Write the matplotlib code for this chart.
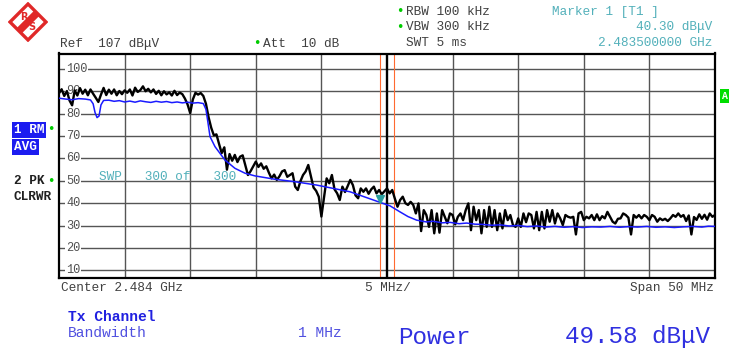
import numpy as np
import matplotlib.pyplot as plt
from matplotlib.patches import Polygon

# peak trace, one reading every 0.2 MHz across the 50 MHz span (dBuV)
pk_level = [89.2, 91.0, 88.0, 90.2, 86.0, 83.8, 90.5, 88.2, 91.5, 89.0,
            90.8, 88.3, 90.9, 89.0, 87.2, 85.3, 88.6, 91.6, 88.4, 90.8,
            89.0, 90.9, 88.3, 90.2, 88.8, 90.5, 89.4, 90.9, 88.2, 91.7,
            89.8, 90.6, 92.3, 90.1, 91.2, 89.6, 90.9, 88.9, 90.3, 88.3,
            90.1, 88.7, 89.6, 88.2, 90.3, 88.4, 89.5, 88.8, 86.8, 84.2,
            80.3, 86.4, 89.4, 88.6, 89.3, 88.0, 84.5, 78.5, 73.8, 70.4,
            70.8, 66.5, 62.4, 65.0, 55.0, 62.0, 59.0, 61.6, 58.4, 60.8,
            61.4, 57.0, 52.6, 54.3, 56.5, 58.6, 56.2, 57.8, 55.4, 56.5,
            53.6, 51.1, 52.8, 50.4, 52.0, 54.2, 54.8, 51.8, 52.6, 53.4,
            47.4, 45.9, 49.8, 52.6, 54.2, 57.1, 52.0, 47.0, 45.5, 42.9,
            34.0, 42.5, 51.1, 48.9, 52.6, 46.2, 44.4, 41.4, 47.4, 45.0,
            47.6, 50.4, 48.1, 43.5, 42.2, 46.6, 45.1, 46.6, 44.2, 46.2,
            47.4, 44.4, 45.9, 44.0, 45.3, 46.6, 44.4, 45.9, 42.0, 38.4,
            41.4, 42.9, 40.0, 39.2, 40.6, 39.2, 35.4, 39.9, 27.5, 36.9,
            34.7, 29.4, 36.9, 26.5, 35.4, 26.8, 36.9, 33.9, 31.0, 35.4,
            34.7, 30.5, 33.9, 35.4, 32.4, 36.9, 39.9, 27.9, 38.4, 32.4,
            36.9, 26.5, 36.9, 29.4, 38.4, 29.4, 36.9, 27.9, 35.4, 28.7,
            36.9, 32.4, 34.7, 30.2, 29.4, 33.2, 29.4, 35.4, 31.5, 35.4,
            34.7, 28.7, 36.1, 27.9, 36.1, 28.7, 36.9, 31.7, 36.9, 30.9,
            35.4, 33.2, 30.2, 34.7, 33.9, 33.5, 33.9, 26.0, 35.4, 36.1,
            32.4, 33.9, 33.2, 34.7, 32.4, 35.0, 32.4, 34.2, 33.2, 36.1,
            33.9, 31.7, 30.9, 33.0, 33.2, 35.4, 34.7, 33.5, 26.0, 34.7,
            33.5, 34.7, 33.2, 34.7, 33.9, 32.4, 34.7, 33.9, 31.7, 33.2,
            32.4, 33.0, 32.0, 33.2, 34.7, 33.9, 35.4, 33.9, 34.7, 32.0,
            34.5, 26.0, 33.8, 32.5, 35.0, 33.0, 34.8, 32.6, 35.4, 33.9,
            34.7]
pk_freq = np.linspace(-25, 25, len(pk_level))

# rms average trace (MHz offset, dBuV)
rm_freq = [-25.0, -24.5, -24.0, -23.5, -23.0, -22.6, -22.4, -22.25, -22.1, -21.95,
           -21.8, -21.6, -21.2, -20.8, -20.4, -20.0, -19.6, -19.2, -18.8, -18.4,
           -18.0, -17.6, -17.2, -16.8, -16.4, -16.0, -15.6, -15.2, -14.8, -14.4,
           -14.0, -13.8, -13.67, -13.49, -13.11, -12.73, -12.35, -11.59, -10.82, -10.06,
           -8.54, -7.01, -5.36, -2.82, -0.5, 0.23, 0.99, 1.6, 2.26, 3.0,
           3.51, 4.2, 4.8, 5.5, 6.07, 6.7, 7.32, 8.0, 8.61, 9.3,
           10.0, 10.7, 11.4, 12.1, 12.8, 13.5, 14.2, 14.9, 15.6, 16.3,
           17.0, 17.7, 18.4, 19.1, 19.8, 20.5, 21.2, 21.9, 22.6, 23.3,
           24.0, 24.5, 25.0]
rm_level = [87.0, 86.6, 86.3, 86.8, 86.6, 86.2, 84.5, 80.5, 78.3, 79.0,
            84.0, 86.0, 86.1, 85.6, 85.9, 85.3, 85.7, 85.2, 85.8, 85.4,
            85.1, 85.6, 85.2, 85.5, 85.0, 85.3, 84.9, 85.2, 84.8, 85.0,
            84.6, 82.0, 77.0, 69.8, 65.3, 62.3, 59.3, 55.6, 53.4, 52.2,
            50.7, 49.6, 48.1, 45.1, 40.3, 38.8, 36.1, 34.0, 32.4, 31.6,
            31.9, 31.2, 31.4, 30.8, 31.1, 30.6, 30.5, 30.1, 30.3, 29.8,
            30.0, 29.5, 29.8, 29.3, 29.6, 29.2, 29.5, 29.1, 29.4, 29.3,
            29.6, 29.2, 29.5, 29.3, 29.6, 29.2, 29.4, 29.1, 29.4, 29.6,
            29.3, 29.7, 29.6]

grid_levels = [100, 90, 80, 70, 60, 50, 40, 30, 20, 10]
channel_edges = [-0.5, 0.5]
marker_freq = -0.5
marker_level = 40.30

W, H = 736, 351
MONO = 'Liberation Mono'
TEXT = '#404040'
TEAL = '#52b0ba'
BLUE = '#1a1aff'
GREEN = '#00cc00'


def px(x, y):
    return x / W, 1 - y / H


def t(x, y, s, size=9.2, color=TEXT, ha='left', weight='normal', **kw):
    fig.text(*px(x, y), s, fontsize=size, family=MONO, color=color, ha=ha, va='center',
             weight=weight, **kw)


fig = plt.figure(figsize=(W / 100, H / 100), dpi=100)
ax = fig.add_axes([59 / W, 1 - 278 / H, 656 / W, 224.5 / H])
ax.set_xlim(-25, 25)
ax.set_ylim(6.5, 107)
ax.set_xticks([])
ax.set_yticks([])
for s in ax.spines.values():
    s.set_linewidth(1.6)
    s.set_color('black')

# graticule
for lv in grid_levels:
    ax.axhline(lv, color='#555555', lw=1.0, zorder=1)
for i in range(1, 10):
    f = -25 + 5 * i
    ax.axvline(f, color='black' if f == 0 else '#555555', lw=1.7 if f == 0 else 1.0, zorder=1)
for lv in grid_levels:
    ax.text(0.011, lv, str(lv), transform=ax.get_yaxis_transform(), fontsize=8.6,
            family=MONO, color='#505050', va='center', ha='left', zorder=2,
            bbox=dict(facecolor='white', edgecolor='none', pad=0.6))

# channel bandwidth lines
for f in channel_edges:
    ax.axvline(f, color='#ff6a30', lw=0.8, zorder=2)

t(99, 177, 'SWP   300 of   300', color=TEAL)

ax.plot(pk_freq, pk_level, color='black', lw=1.7, zorder=3)
ax.plot(rm_freq, rm_level, color=BLUE, lw=1.1, zorder=4)
ax.plot([marker_freq], [marker_level + 1.4], marker='v', color='#2aa0a0', ms=6, zorder=5)

# header
t(60, 44, 'Ref  107 dB\u03bcV')
t(263, 44, 'Att  10 dB')
t(406, 12, 'RBW 100 kHz')
t(406, 27, 'VBW 300 kHz')
t(406, 43, 'SWT 5 ms')
t(552, 12, 'Marker 1 [T1 ]', color=TEAL)
t(712, 27, '40.30 dB\u03bcV', color=TEAL, ha='right')
t(712, 43, '2.483500000 GHz', color=TEAL, ha='right')
for gx, gy in [(257, 43), (400, 12), (400, 27), (51, 130), (51, 181)]:
    fig.text(*px(gx, gy), '\u2022', color=GREEN, fontsize=9, ha='center', va='center')

# trace labels
box = dict(facecolor='#1c1cf0', edgecolor='none', pad=1.2)
t(14, 130, '1 RM', color='white', weight='bold', bbox=box)
t(14, 147, 'AVG', color='white', weight='bold', bbox=box)
t(14, 181, '2 PK', color='#202020', weight='bold')
t(14, 197, 'CLRWR', color='#202020', weight='bold')

# side marker box
t(724.5, 96, 'A', size=7, color='white', ha='center', weight='bold',
  bbox=dict(facecolor='#00dd00', edgecolor='none', pad=1.5))

# footer
t(61, 288, 'Center 2.484 GHz')
t(388, 288, '5 MHz/', ha='center')
t(714, 288, 'Span 50 MHz', ha='right')
t(68, 317, 'Tx Channel', size=10.5, color='#2020e0', weight='bold')
t(68, 333, 'Bandwidth', size=10.5, color='#5050e0')
t(298, 333, '1 MHz', size=10.5, color='#5050e0')
t(398, 337, 'Power', size=17.5, color='#3030e0')
t(710, 337, '49.58 dB\u03bcV', size=17.5, color='#3030e0', ha='right')

# logo
lg = fig.add_axes([8 / W, 1 - 42 / H, 40 / W, 40 / H])
lg.set_xlim(0, 1)
lg.set_ylim(0, 1)
lg.axis('off')
lg.add_patch(Polygon([[0.5, 0.95], [0.95, 0.5], [0.5, 0.05], [0.05, 0.5]], closed=True,
                     fill=False, edgecolor='#e02828', lw=2.4))
lg.add_patch(Polygon([[0.22, 0.35], [0.35, 0.22], [0.78, 0.65], [0.65, 0.78]], closed=True,
                     facecolor='#e02828', edgecolor='none'))
lg.text(0.4, 0.62, 'R', fontsize=7, color='#e02828', ha='center', va='center', weight='bold')
lg.text(0.6, 0.38, 'S', fontsize=7, color='#e02828', ha='center', va='center', weight='bold')

fig.savefig('out.png', dpi=100)
